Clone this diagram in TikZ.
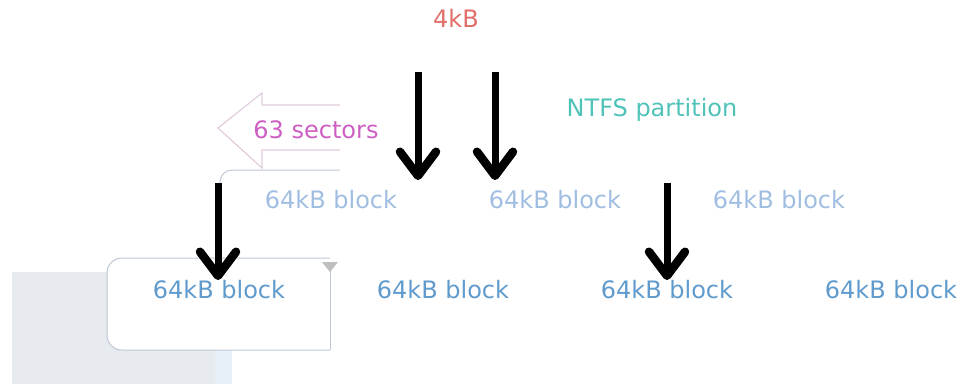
\documentclass[tikz,border=0pt]{standalone}
\usepackage{fontspec}
\setmainfont{DejaVu Sans}
\usetikzlibrary{arrows.meta}
\definecolor{redt}{RGB}{225,110,105}
\definecolor{tealt}{RGB}{80,195,185}
\definecolor{magt}{RGB}{205,95,195}
\definecolor{blueA}{RGB}{160,190,225}
\definecolor{blueB}{RGB}{95,155,205}
\definecolor{greybg}{RGB}{231,235,239}
\definecolor{edge}{RGB}{190,200,212}
\definecolor{pinkedge}{RGB}{225,205,222}
\begin{document}
\begin{tikzpicture}[x=1pt,y=-1pt,
  lbl/.style={font=\fontsize{24}{24}\selectfont, inner sep=0pt},
  rowA/.style={lbl, text=blueA},
  rowB/.style={lbl, text=blueB},
  bigarrow/.style={draw=black, line width=7pt, -{Straight Barb[length=24pt,width=36pt,line width=8.5pt,round]}}]
\useasboundingbox (0,0) rectangle (969,384);
% background pieces
\fill[greybg] (12,272) rectangle (232,384);
\fill[blueA!25] (215,272) rectangle (232,384);
\draw[edge, line width=1pt, fill=white, rounded corners=15pt] (330,258) -- (107,258) -- (107,350) -- (330,350);
\draw[edge, line width=1pt] (330,262) -- (330,350);
\fill[gray!50] (322,262) -- (338,262) -- (330,272) -- cycle;
\draw[edge, line width=1pt, rounded corners=12pt] (340,170) -- (220,170) -- (220,200);
\draw[pinkedge, line width=1.2pt] (340,105) -- (262,105) -- (262,93) -- (218,128) -- (262,168) -- (262,150) -- (340,150);
% texts
\node[lbl, text=redt] (k4) at (456,18) {4kB};
\node[lbl, text=tealt] (ntfs) at (652,110) {NTFS partition};
\node[lbl, text=magt] (sec) at (316,130) {63 sectors};
\node[rowA] (a1) at (331,200) {64kB block};
\node[rowA] (a2) at (555,200) {64kB block};
\node[rowA] (a3) at (779,200) {64kB block};
\node[rowB] (b1) at (219,290) {64kB block};
\node[rowB] (b2) at (443,290) {64kB block};
\node[rowB] (b3) at (667,290) {64kB block};
\node[rowB] (b4) at (891,290) {64kB block};
% arrows
\coordinate (s1) at (418,72); \coordinate (e1) at (418,180);
\coordinate (s2) at (495,72); \coordinate (e2) at (495,180);
\coordinate (s3) at (218,183); \coordinate (e3) at (218,280);
\coordinate (s4) at (667,183); \coordinate (e4) at (667,280);
\draw[bigarrow] (s1) -- (e1);
\draw[bigarrow] (s2) -- (e2);
\draw[bigarrow] (s3) -- (e3);
\draw[bigarrow] (s4) -- (e4);
\end{tikzpicture}
\end{document}
